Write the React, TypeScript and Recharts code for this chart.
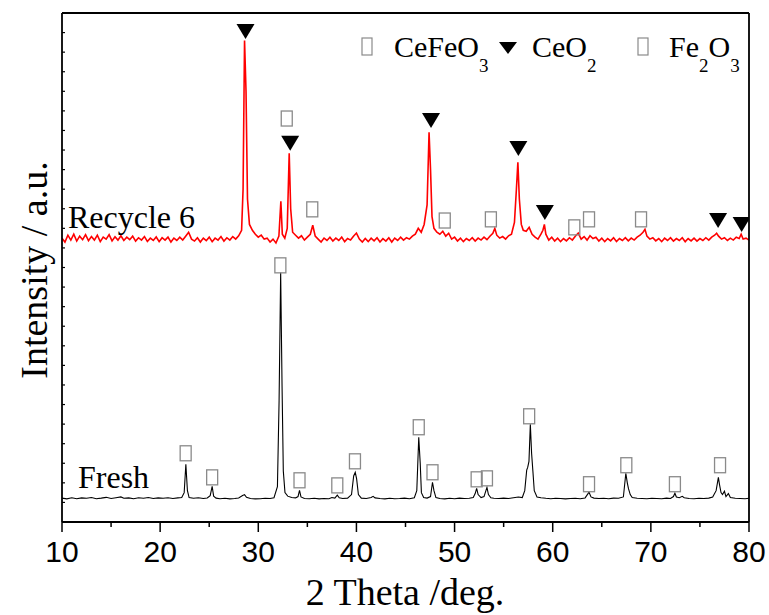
import React from "react";
import { ComposedChart, Line, Scatter, XAxis, YAxis } from "recharts";

// 2 theta (deg) / intensity (a.u.)
const freshPattern: [number, number][] = [
  [10.0, 122], [10.5, 118], [11.0, 124], [11.5, 119], [12.0, 123], [12.5, 121], [13.0, 125], [13.5, 119],
  [14.0, 122], [14.5, 126], [15.0, 120], [15.5, 124], [16.0, 128], [16.3, 121], [16.8, 123], [17.3, 119],
  [17.8, 124], [18.3, 121], [18.8, 125], [19.3, 120], [19.8, 123], [20.3, 121], [20.8, 124], [21.3, 120],
  [21.8, 123], [22.2, 125], [22.45, 150], [22.62, 295], [22.78, 160], [22.95, 125], [23.4, 121], [23.9, 124],
  [24.4, 120], [24.8, 123], [25.1, 135], [25.3, 182], [25.45, 132], [25.7, 122], [26.1, 119], [26.6, 121],
  [27.1, 118], [27.6, 120], [28.0, 123], [28.4, 135], [28.6, 140], [28.8, 126], [29.2, 120], [29.7, 118],
  [30.2, 119], [30.7, 121], [31.2, 120], [31.6, 124], [31.95, 180], [32.12, 620], [32.28, 1275], [32.42, 700],
  [32.55, 260], [32.72, 150], [33.0, 132], [33.4, 125], [33.8, 123], [34.05, 130], [34.2, 162], [34.35, 128],
  [34.7, 120], [35.2, 119], [35.7, 121], [36.2, 118], [36.7, 120], [37.2, 119], [37.5, 125], [37.8, 122],
  [38.05, 137], [38.25, 124], [38.6, 120], [39.1, 122], [39.5, 140], [39.72, 235], [39.88, 254], [40.02, 220],
  [40.2, 140], [40.5, 122], [41.0, 120], [41.5, 125], [41.7, 131], [41.9, 123], [42.4, 120], [42.9, 118],
  [43.4, 121], [43.9, 119], [44.4, 120], [44.9, 122], [45.4, 119], [45.9, 124], [46.15, 160], [46.35, 433],
  [46.5, 300], [46.62, 150], [46.85, 125], [47.2, 122], [47.55, 130], [47.75, 203], [47.9, 160], [48.1, 125],
  [48.5, 120], [49.0, 118], [49.5, 121], [50.0, 119], [50.5, 122], [51.0, 120], [51.5, 121], [51.9, 125],
  [52.1, 145], [52.25, 172], [52.4, 140], [52.7, 125], [53.0, 130], [53.3, 177], [53.45, 140], [53.7, 124],
  [54.0, 121], [54.5, 120], [55.0, 122], [55.5, 120], [56.0, 124], [56.5, 128], [56.9, 125], [57.15, 160],
  [57.35, 265], [57.45, 279], [57.58, 310], [57.72, 499], [57.85, 350], [57.98, 260], [58.12, 160], [58.4, 128],
  [58.8, 124], [59.3, 121], [59.8, 119], [60.3, 121], [60.8, 120], [61.3, 118], [61.8, 120], [62.3, 121],
  [62.8, 119], [63.3, 123], [63.7, 152], [63.9, 128], [64.2, 122], [64.7, 120], [65.2, 121], [65.7, 119],
  [66.2, 122], [66.7, 121], [67.2, 128], [67.45, 249], [67.6, 200], [67.72, 170], [67.9, 140], [68.1, 125],
  [68.6, 121], [69.1, 120], [69.6, 119], [70.1, 121], [70.6, 120], [71.1, 119], [71.6, 122], [72.0, 120],
  [72.3, 130], [72.45, 147], [72.6, 128], [72.9, 124], [73.2, 131], [73.4, 124], [73.9, 120], [74.4, 119],
  [74.9, 121], [75.4, 120], [75.9, 122], [76.3, 128], [76.65, 160], [76.88, 228], [77.0, 190], [77.15, 150],
  [77.3, 140], [77.5, 157], [77.65, 130], [77.9, 145], [78.1, 125], [78.6, 121], [79.1, 120], [79.6, 119],
  [80.0, 121],
];

const recyclePattern: [number, number][] = [
  [10.0, 1450], [10.3, 1430], [10.6, 1465], [10.9, 1440], [11.2, 1470], [11.5, 1435], [11.8, 1460], [12.1, 1442],
  [12.4, 1468], [12.7, 1437], [13.0, 1458], [13.3, 1440], [13.6, 1465], [13.9, 1432], [14.2, 1455], [14.5, 1445],
  [14.8, 1468], [15.1, 1436], [15.4, 1457], [15.7, 1440], [16.0, 1462], [16.3, 1438], [16.6, 1455], [16.9, 1442],
  [17.2, 1460], [17.5, 1435], [17.8, 1452], [18.1, 1440], [18.4, 1458], [18.7, 1433], [19.0, 1450], [19.3, 1438],
  [19.6, 1456], [19.9, 1432], [20.2, 1452], [20.5, 1440], [20.8, 1455], [21.1, 1430], [21.4, 1450], [21.7, 1438],
  [22.0, 1455], [22.3, 1440], [22.6, 1460], [22.9, 1480], [23.2, 1445], [23.5, 1435], [23.8, 1452], [24.1, 1430],
  [24.4, 1450], [24.7, 1437], [25.0, 1455], [25.3, 1432], [25.6, 1450], [25.9, 1440], [26.2, 1458], [26.5, 1435],
  [26.8, 1452], [27.1, 1440], [27.4, 1458], [27.7, 1445], [28.0, 1462], [28.3, 1490], [28.45, 1700], [28.6, 2460],
  [28.75, 2200], [28.9, 1650], [29.1, 1520], [29.4, 1490], [29.7, 1470], [30.0, 1455], [30.3, 1465], [30.6, 1445],
  [30.9, 1450], [31.2, 1430], [31.5, 1445], [31.8, 1425], [32.1, 1460], [32.3, 1638], [32.45, 1470], [32.7, 1450],
  [32.95, 1500], [33.15, 1883], [33.3, 1600], [33.5, 1480], [33.8, 1465], [34.1, 1450], [34.4, 1462], [34.7, 1440],
  [35.0, 1455], [35.3, 1470], [35.55, 1516], [35.8, 1460], [36.1, 1445], [36.4, 1430], [36.7, 1450], [37.0, 1438],
  [37.3, 1455], [37.6, 1435], [37.9, 1450], [38.2, 1438], [38.5, 1455], [38.8, 1432], [39.1, 1448], [39.4, 1440],
  [39.7, 1460], [40.0, 1476], [40.3, 1445], [40.6, 1430], [40.9, 1448], [41.2, 1432], [41.5, 1450], [41.8, 1436],
  [42.1, 1452], [42.4, 1430], [42.7, 1447], [43.0, 1435], [43.3, 1452], [43.6, 1430], [43.9, 1450], [44.2, 1438],
  [44.5, 1455], [44.8, 1440], [45.1, 1452], [45.4, 1445], [45.7, 1460], [46.0, 1470], [46.3, 1500], [46.6, 1480],
  [46.9, 1520], [47.2, 1620], [47.4, 1991], [47.55, 1800], [47.7, 1560], [47.9, 1500], [48.2, 1480], [48.5, 1470],
  [48.8, 1485], [49.1, 1460], [49.4, 1475], [49.7, 1445], [50.0, 1455], [50.3, 1435], [50.6, 1450], [50.9, 1432],
  [51.2, 1448], [51.5, 1438], [51.8, 1452], [52.1, 1435], [52.4, 1450], [52.7, 1440], [53.0, 1455], [53.3, 1442],
  [53.6, 1460], [53.9, 1475], [54.1, 1500], [54.3, 1465], [54.6, 1450], [54.9, 1458], [55.2, 1445], [55.5, 1462],
  [55.8, 1470], [56.1, 1530], [56.3, 1700], [56.45, 1837], [56.6, 1650], [56.8, 1520], [57.0, 1490], [57.3, 1485],
  [57.6, 1505], [57.9, 1470], [58.2, 1455], [58.5, 1445], [58.8, 1470], [59.0, 1490], [59.15, 1520], [59.3, 1470],
  [59.6, 1440], [59.9, 1455], [60.2, 1435], [60.5, 1450], [60.8, 1432], [61.1, 1448], [61.4, 1436], [61.7, 1452],
  [62.0, 1440], [62.3, 1460], [62.6, 1476], [62.9, 1445], [63.2, 1458], [63.5, 1440], [63.8, 1462], [64.1, 1448],
  [64.4, 1455], [64.7, 1435], [65.0, 1450], [65.3, 1432], [65.6, 1448], [65.9, 1436], [66.2, 1452], [66.5, 1433],
  [66.8, 1448], [67.1, 1438], [67.4, 1452], [67.7, 1436], [68.0, 1450], [68.3, 1440], [68.6, 1455], [68.9, 1465],
  [69.2, 1480], [69.4, 1495], [69.6, 1460], [69.9, 1445], [70.2, 1452], [70.5, 1436], [70.8, 1448], [71.1, 1432],
  [71.4, 1450], [71.7, 1438], [72.0, 1452], [72.3, 1435], [72.6, 1448], [72.9, 1438], [73.2, 1452], [73.5, 1432],
  [73.8, 1448], [74.1, 1436], [74.4, 1450], [74.7, 1435], [75.0, 1448], [75.3, 1438], [75.6, 1452], [75.9, 1440],
  [76.2, 1455], [76.5, 1465], [76.7, 1475], [76.9, 1460], [77.2, 1445], [77.5, 1452], [77.8, 1438], [78.1, 1450],
  [78.4, 1440], [78.7, 1455], [79.0, 1448], [79.2, 1470], [79.4, 1445], [79.7, 1450], [80.0, 1440],
];

// phase markers (position of the symbol)
const freshSquares: [number, number][] = [
  [22.6, 351], [25.3, 228], [32.25, 1311], [34.2, 213], [38.05, 187], [39.85, 310], [46.35, 484], [47.75, 254],
  [52.25, 218], [53.3, 223], [57.6, 540], [63.7, 193], [67.5, 290], [72.45, 193], [77.05, 290],
];
const recycleSquares: [number, number][] = [
  [32.9, 2061], [35.5, 1597], [49.0, 1540], [53.7, 1546], [62.2, 1505], [63.7, 1546], [69.0, 1546],
];
const ceo2Triangles: [number, number][] = [
  [28.7, 2506], [33.25, 1935], [47.6, 2051], [56.5, 1908], [59.2, 1581], [76.85, 1540], [79.25, 1520],
];

const xTicks = [10, 15, 20, 25, 30, 35, 40, 45, 50, 55, 60, 65, 70, 75, 80];
const yTicks = Array.from({ length: 27 }, (_, i) => i * 100);

const toPts = (arr: [number, number][]) => arr.map(([x, y]) => ({ x, y }));

const serif = "'Liberation Serif', 'Times New Roman', serif";

const BottomTick = ({ x, y, payload }: any) => {
  const major = payload.value % 10 === 0;
  return (
    <g>
      <line x1={x} x2={x} y1={y} y2={y + (major ? 10 : 5)} stroke="#000" strokeWidth={1.5} />
      {major && (
        <text x={x} y={y + 40} textAnchor="middle" fontFamily="'Liberation Sans', Arial, sans-serif" fontSize={30} fill="#000">
          {payload.value}
        </text>
      )}
    </g>
  );
};
const TopTick = ({ x, y }: any) => <line x1={x} x2={x} y1={y} y2={y + 3} stroke="#000" strokeWidth={1.2} />;
const LeftTick = ({ x, y }: any) => <line x1={x} x2={x + 3} y1={y} y2={y} stroke="#000" strokeWidth={1.2} />;
const RightTick = ({ x, y }: any) => <line x1={x} x2={x + 3} y1={y} y2={y} stroke="#000" strokeWidth={1.2} />;

const Square = ({ cx, cy }: any) => (
  <rect x={cx - 5.5} y={cy - 7.5} width={11} height={15} fill="none" stroke="#8a8a8a" strokeWidth={1.3} />
);
const Triangle = ({ cx, cy }: any) => (
  <polygon points={`${cx - 9},${cy - 7.5} ${cx + 9},${cy - 7.5} ${cx},${cy + 7.5}`} fill="#000" />
);

const frame = { stroke: "#000", strokeWidth: 1.8 };

export default function App() {
  return (
    <div style={{ position: "absolute", left: 0, top: 0, width: 769, height: 615, background: "#fff" }}>
      <ComposedChart width={769} height={615} margin={{ top: 12, right: 19, bottom: 0, left: 61 }}>
        <XAxis
          dataKey="x"
          type="number"
          domain={[10, 80]}
          ticks={xTicks}
          interval={0}
          height={93}
          tickSize={0}
          tickMargin={0}
          tick={<BottomTick />}
          axisLine={frame}
          tickLine={false}
          allowDataOverflow
        />
        <XAxis
          xAxisId="top"
          orientation="top"
          dataKey="x"
          type="number"
          domain={[10, 80]}
          ticks={xTicks}
          interval={0}
          height={1}
          tickSize={0}
          tickMargin={0}
          tick={<TopTick />}
          axisLine={frame}
          tickLine={false}
        />
        <YAxis
          type="number"
          domain={[0, 2600]}
          ticks={yTicks}
          interval={0}
          width={1}
          tickSize={0}
          tickMargin={0}
          tick={<LeftTick />}
          axisLine={frame}
          tickLine={false}
          allowDataOverflow
        />
        <YAxis
          yAxisId="right"
          orientation="right"
          type="number"
          domain={[0, 2600]}
          ticks={yTicks}
          interval={0}
          width={1}
          tickSize={0}
          tickMargin={0}
          tick={<RightTick />}
          axisLine={frame}
          tickLine={false}
        />
        <Line data={toPts(freshPattern)} dataKey="y" type="linear" stroke="#000" strokeWidth={1.1} dot={false} isAnimationActive={false} />
        <Line data={toPts(recyclePattern)} dataKey="y" type="linear" stroke="#ff0000" strokeWidth={1.6} dot={false} isAnimationActive={false} />
        <Scatter data={toPts(freshSquares)} dataKey="y" shape={<Square />} isAnimationActive={false} />
        <Scatter data={toPts(recycleSquares)} dataKey="y" shape={<Square />} isAnimationActive={false} />
        <Scatter data={toPts(ceo2Triangles)} dataKey="y" shape={<Triangle />} isAnimationActive={false} />
      </ComposedChart>

      {/* titles, legend and sample labels */}
      <svg width={769} height={615} style={{ position: "absolute", left: 0, top: 0, pointerEvents: "none" }}>
        <g fontFamily={serif} fill="#000">
          <text x={405} y={605} textAnchor="middle" fontSize={38}>2 Theta /deg.</text>
          <text x={47} y={270} textAnchor="middle" fontSize={38} transform="rotate(-90 47 270)">Intensity / a.u.</text>
          <text x={68} y={228} fontSize={32}>Recycle 6</text>
          <text x={78} y={488} fontSize={32}>Fresh</text>

          <rect x={362} y={38} width={10} height={17} fill="none" stroke="#8a8a8a" strokeWidth={1.2} />
          <text x={394} y={57} fontSize={30}>
            CeFeO<tspan fontSize={19} dy={15}>3</tspan>
          </text>
          <polygon points="499,42 517,42 508,54" fill="#000" />
          <text x={532} y={57} fontSize={30}>
            CeO<tspan fontSize={19} dy={15}>2</tspan>
          </text>
          <rect x={638} y={38} width={10} height={17} fill="none" stroke="#8a8a8a" strokeWidth={1.2} />
          <text x={669} y={57} fontSize={30}>
            Fe<tspan fontSize={19} dy={15}>2</tspan><tspan fontSize={30} dy={-15}>O</tspan><tspan fontSize={19} dy={15}>3</tspan>
          </text>
        </g>
      </svg>
    </div>
  );
}
